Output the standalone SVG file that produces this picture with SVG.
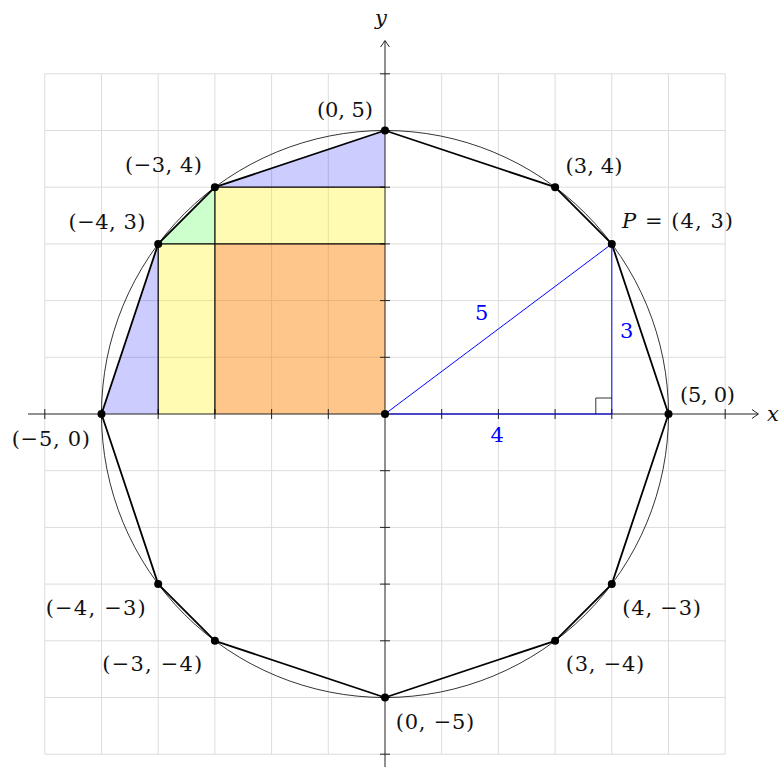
<svg xmlns="http://www.w3.org/2000/svg" width="783" height="767" viewBox="0 0 783 767">
<style>
.grid{stroke:#dcdcdc;stroke-width:1;fill:none}
.axis{stroke:#222;stroke-width:1;fill:none}
.tick{stroke:#222;stroke-width:1}
.edge{stroke:#000;stroke-width:1.8;fill:none;stroke-linejoin:round}
.circ{stroke:#000;stroke-width:0.8;fill:none}
.sq{stroke:#000;stroke-width:1.2;fill:none}
.tri{stroke:#0000ff;stroke-width:1;fill:none}
.dot{fill:#000}
.lbl{font-family:"DejaVu Serif","Liberation Serif",serif;font-size:21px;fill:#111}
.blbl{font-family:"DejaVu Serif","Liberation Serif",serif;font-size:21px;fill:#0000ff}
.it{font-style:italic}
</style>
<rect width="783" height="767" fill="#fff"/>
<g id="grid" class="grid">
<path d="M44.8,73.8V754.2M101.5,73.8V754.2M158.2,73.8V754.2M214.9,73.8V754.2M271.6,73.8V754.2M328.3,73.8V754.2M441.7,73.8V754.2M498.4,73.8V754.2M555.1,73.8V754.2M611.8,73.8V754.2M668.5,73.8V754.2M725.2,73.8V754.2"/>
<path d="M44.8,73.8H725.2M44.8,130.5H725.2M44.8,187.2H725.2M44.8,243.9H725.2M44.8,300.6H725.2M44.8,357.3H725.2M44.8,470.7H725.2M44.8,527.4H725.2M44.8,584.1H725.2M44.8,640.8H725.2M44.8,697.5H725.2M44.8,754.2H725.2"/>
</g>
<g id="fills">
<polygon points="214.9,187.2 385,130.5 385,187.2" fill="#0000ff" fill-opacity="0.2"/>
<polygon points="101.5,414 158.2,243.9 158.2,414" fill="#0000ff" fill-opacity="0.2"/>
<polygon points="158.2,243.9 214.9,187.2 214.9,243.9" fill="#00ff00" fill-opacity="0.2"/>
<rect x="214.9" y="187.2" width="170.1" height="56.7" fill="#fff200" fill-opacity="0.3"/>
<rect x="158.2" y="243.9" width="56.7" height="170.1" fill="#fff200" fill-opacity="0.3"/>
<rect x="214.9" y="243.9" width="170.1" height="170.1" fill="#ff8000" fill-opacity="0.45"/>
</g>
<g id="axes">
<path class="axis" d="M28,414H758"/>
<path class="axis" d="M752,409.5Q756,412.5 758.5,414Q756,415.5 752,418.5"/>
<path class="axis" d="M385,767V41"/>
<path class="axis" d="M380.5,47Q383.5,43 385,40.5Q386.5,43 389.5,47"/>
<path class="tick" d="M44.8,409V419M101.5,409V419M158.2,409V419M214.9,409V419M271.6,409V419M328.3,409V419M441.7,409V419M498.4,409V419M555.1,409V419M611.8,409V419M668.5,409V419M725.2,409V419"/>
<path class="tick" d="M380,73.8H390M380,130.5H390M380,187.2H390M380,243.9H390M380,300.6H390M380,357.3H390M380,470.7H390M380,527.4H390M380,584.1H390M380,640.8H390M380,697.5H390M380,754.2H390"/>
<text class="lbl it" x="375" y="25">y</text>
<text class="lbl it" x="767" y="421">x</text>
</g>
<g id="squares" class="sq">
<path d="M158.2,243.9H385M214.9,187.2H385M214.9,187.2V414M158.2,243.9V414"/>
</g>
<circle class="circ" cx="385" cy="414" r="283.5"/>
<g id="triangle">
<path class="tri" d="M385,414L611.8,414L611.8,243.9Z"/>
<path d="M595.8,414V398H611.8" stroke="#000" stroke-width="0.8" fill="none"/>
<text class="blbl" x="475" y="320">5</text>
<text class="blbl" x="620" y="338">3</text>
<text class="blbl" x="490.5" y="442">4</text>
</g>
<g id="connectors">
<polygon class="edge" points="668.5,414 611.8,243.9 555.1,187.2 385,130.5 214.9,187.2 158.2,243.9 101.5,414 158.2,584.1 214.9,640.8 385,697.5 555.1,640.8 611.8,584.1"/>
</g>
<g id="p_5_0"><circle class="dot" cx="668.5" cy="414" r="4"/><text class="lbl" x="680" y="402" textLength="55" lengthAdjust="spacing">(5, 0)</text></g>
<g id="p_4_3"><circle class="dot" cx="611.8" cy="243.9" r="4"/><text class="lbl" x="622" y="228" textLength="111" lengthAdjust="spacing"><tspan class="it">P</tspan> = (4, 3)</text></g>
<g id="p_3_4"><circle class="dot" cx="555.1" cy="187.2" r="4"/><text class="lbl" x="565.5" y="173" textLength="57" lengthAdjust="spacing">(3, 4)</text></g>
<g id="p_0_5"><circle class="dot" cx="385" cy="130.5" r="4"/><text class="lbl" x="317" y="117" textLength="56" lengthAdjust="spacing">(0, 5)</text></g>
<g id="p_m3_4"><circle class="dot" cx="214.9" cy="187.2" r="4"/><text class="lbl" x="125" y="172" textLength="77" lengthAdjust="spacing">(−3, 4)</text></g>
<g id="p_m4_3"><circle class="dot" cx="158.2" cy="243.9" r="4"/><text class="lbl" x="68.5" y="229" textLength="77" lengthAdjust="spacing">(−4, 3)</text></g>
<g id="p_m5_0"><circle class="dot" cx="101.5" cy="414" r="4"/><text class="lbl" x="11.7" y="446" textLength="78.3" lengthAdjust="spacing">(−5, 0)</text></g>
<g id="p_m4_m3"><circle class="dot" cx="158.2" cy="584.1" r="4"/><text class="lbl" x="45.7" y="615" textLength="100" lengthAdjust="spacing">(−4, −3)</text></g>
<g id="p_m3_m4"><circle class="dot" cx="214.9" cy="640.8" r="4"/><text class="lbl" x="102.3" y="671" textLength="100" lengthAdjust="spacing">(−3, −4)</text></g>
<g id="p_0_m5"><circle class="dot" cx="385" cy="697.5" r="4"/><text class="lbl" x="395.7" y="729" textLength="78.6" lengthAdjust="spacing">(0, −5)</text></g>
<g id="p_3_m4"><circle class="dot" cx="555.1" cy="640.8" r="4"/><text class="lbl" x="565.7" y="671" textLength="78.6" lengthAdjust="spacing">(3, −4)</text></g>
<g id="p_4_m3"><circle class="dot" cx="611.8" cy="584.1" r="4"/><text class="lbl" x="622.3" y="615" textLength="78.7" lengthAdjust="spacing">(4, −3)</text></g>
<g id="origin"><circle class="dot" cx="385" cy="414" r="4"/></g>
</svg>
